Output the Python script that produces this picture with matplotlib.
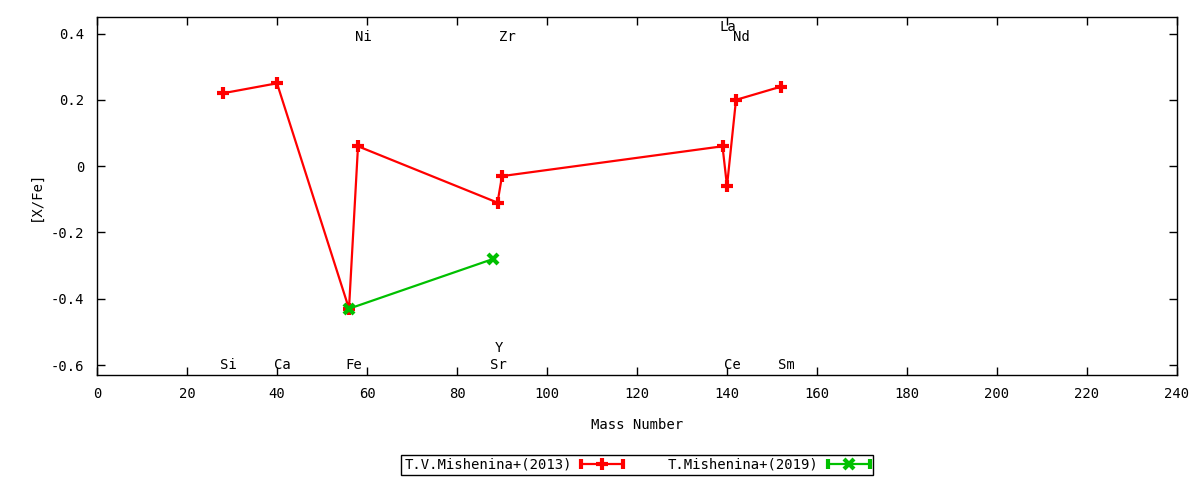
import matplotlib
matplotlib.use("Agg")
import matplotlib.pyplot as plt
from matplotlib.lines import Line2D
from matplotlib.legend_handler import HandlerLine2D
from matplotlib.ticker import FormatStrFormatter, MultipleLocator

plt.rcParams['font.family'] = ['DejaVu Sans Mono']
plt.rcParams['axes.unicode_minus'] = False

# T.V.Mishenina+(2013)
mass_2013 = [28, 40, 56, 58, 89, 90, 139, 140, 142, 152]
xfe_2013 = [0.22, 0.25, -0.43, 0.06, -0.11, -0.03, 0.06, -0.06, 0.20, 0.24]

# T.Mishenina+(2019)
mass_2019 = [56, 88]
xfe_2019 = [-0.43, -0.28]

# element labels: name, mass number, label height
elem_names = ['Si', 'Ca', 'Fe', 'Ni', 'Sr', 'Y', 'Zr', 'La', 'Ce', 'Nd', 'Sm']
elem_mass = [28, 40, 56, 58, 88, 89, 90, 139, 140, 142, 152]
elem_ypos = [-0.6, -0.6, -0.6, 0.39, -0.6, -0.55, 0.39, 0.42, -0.6, 0.39, -0.6]

RED = '#ff0000'
GREEN = '#00c000'


class CapHandler(HandlerLine2D):
    """Legend sample with end caps like gnuplot's errorlines key."""
    def create_artists(self, legend, orig_handle, xdescent, ydescent,
                       width, height, fontsize, trans):
        artists = super().create_artists(legend, orig_handle, xdescent, ydescent,
                                         width, height, fontsize, trans)
        y = height / 2 - ydescent
        caps = Line2D([-xdescent, width - xdescent], [y, y], linestyle='none',
                      marker='|', markersize=7, markeredgewidth=3,
                      color=orig_handle.get_color(), transform=trans)
        return list(artists) + [caps]


fig = plt.figure(figsize=(12, 4.8), dpi=100)
ax = fig.add_axes([97 / 1200, 105 / 480, 1080 / 1200, 358 / 480])

l1, = ax.plot(mass_2013, xfe_2013, color=RED, lw=1.6, marker='+',
              markersize=9, markeredgewidth=3, label='T.V.Mishenina+(2013)')
l2, = ax.plot(mass_2019, xfe_2019, color=GREEN, lw=1.6, marker='x',
              markersize=7, markeredgewidth=3, label='T.Mishenina+(2019)')

# gnuplot puts the labels left-justified at the mass number
for name, m, yp in zip(elem_names, elem_mass, elem_ypos):
    ax.text(m - 0.7, yp, name, ha='left', va='center', fontsize=10)

ax.set_xlim(0, 240)
ax.set_ylim(-0.63, 0.45)
ax.xaxis.set_major_locator(MultipleLocator(20))
ax.yaxis.set_major_locator(MultipleLocator(0.2))
ax.yaxis.set_major_formatter(FormatStrFormatter('%g'))
ax.tick_params(direction='in', length=6, width=1, top=True, right=True,
               labelsize=10, pad=9)
for sp in ax.spines.values():
    sp.set_linewidth(1)

ax.set_xlabel('Mass Number', fontsize=10, labelpad=12)
ax.set_ylabel('[X/Fe]', fontsize=10, labelpad=6)

leg = fig.legend(handles=[l1, l2], loc='center',
                 bbox_to_anchor=(637 / 1200, 1 - 465 / 480),
                 ncol=2, markerfirst=False, fancybox=False, edgecolor='black',
                 framealpha=1, fontsize=10, handlelength=3, handletextpad=0.7,
                 columnspacing=3.2, borderpad=0.2, borderaxespad=0,
                 handler_map={Line2D: CapHandler(numpoints=1)})
leg.get_frame().set_linewidth(1)

fig.savefig('out.png', dpi=100)
